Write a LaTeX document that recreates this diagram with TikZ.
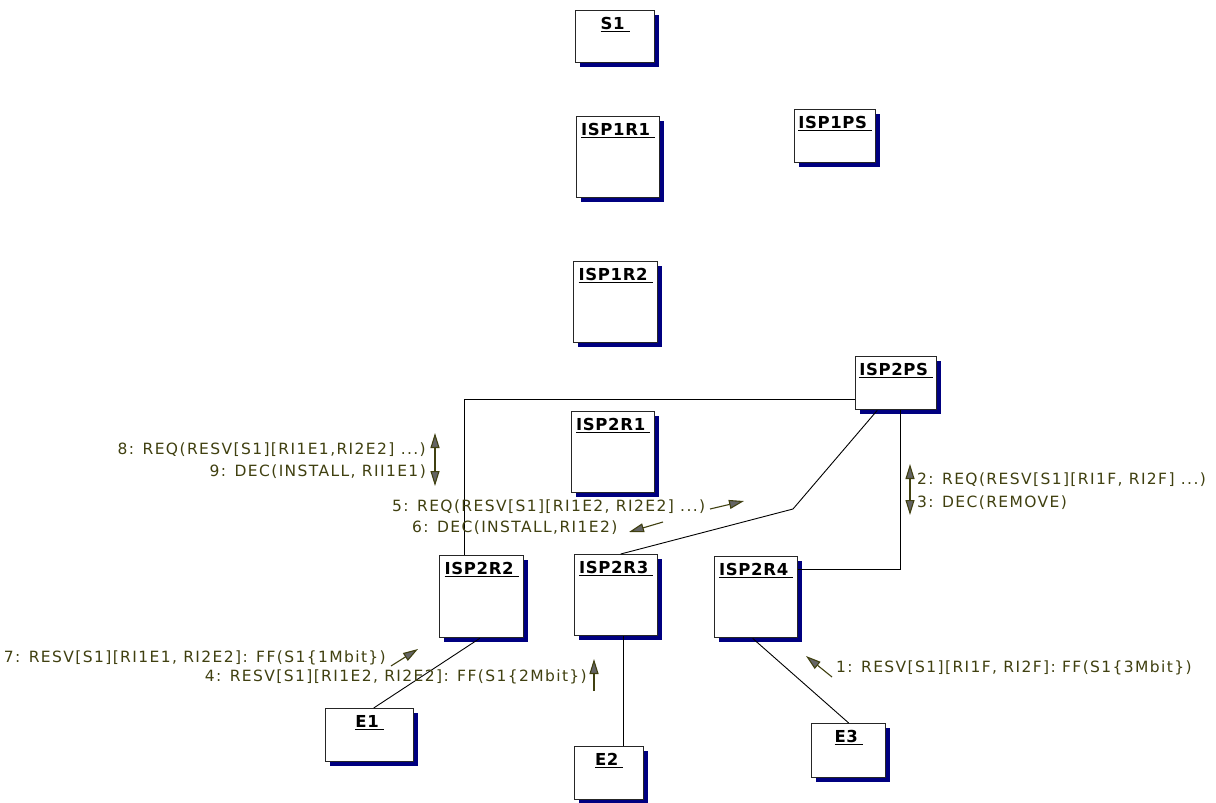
\documentclass[tikz,border=0pt]{standalone}
\usepackage{fontspec}
\setmainfont{DejaVu Sans}
\newfontfamily\msgfont[LetterSpace=9]{DejaVu Sans}
\newfontfamily\ttlfont[LetterSpace=4]{DejaVu Sans}
\usetikzlibrary{arrows.meta,shadows}
\definecolor{msgcol}{RGB}{64,64,16}
\definecolor{headgray}{RGB}{100,100,100}
\definecolor{shadownavy}{RGB}{0,0,128}
\newcommand\ttlul[1]{\setbox0\hbox{#1\hspace{5pt}}\rlap{\vrule height -1.8pt depth 3.4pt width \wd0}\box0}
\begin{document}
\begin{tikzpicture}[x=1pt,y=-1pt,
  box/.style={draw=black!85, line width=1.4pt, fill=white, anchor=north west, inner sep=0pt,
    general shadow={fill=shadownavy, shadow xshift=4pt, shadow yshift=-4pt}},
  ttl/.style={font=\ttlfont\bfseries\fontsize{16.5}{20}\selectfont, text=black, anchor=base, yshift=-19pt, inner sep=0pt},
  conn/.style={draw=black, line width=0.9pt},
  msg/.style={font=\msgfont\fontsize{15.5}{18}\selectfont, text=msgcol, inner sep=0pt},
  marrow/.style={draw=msgcol, line width=1.1pt, -{Triangle[length=15pt,width=9pt,fill=headgray]}},
  dmarrow/.style={draw=msgcol, line width=1.1pt, {Triangle[length=15pt,width=9pt,fill=headgray]}-{Triangle[length=15pt,width=9pt,fill=headgray]}}]
\useasboundingbox[fill=white] (0,0) rectangle (1216,803);

% boxes
\node[box, minimum width=79pt, minimum height=52pt, label={[ttl]north:\ttlul{S1}}] (S1) at (575,10) {};
\node[box, minimum width=83pt, minimum height=81pt, label={[ttl]north:\ttlul{ISP1R1}}] (ISP1R1) at (576,116) {};
\node[box, minimum width=81pt, minimum height=53pt, label={[ttl]north:\ttlul{ISP1PS}}] (ISP1PS) at (794,109) {};
\node[box, minimum width=84pt, minimum height=81pt, label={[ttl]north:\ttlul{ISP1R2}}] (ISP1R2) at (573,261) {};
\node[box, minimum width=81pt, minimum height=53pt, label={[ttl]north:\ttlul{ISP2PS}}] (ISP2PS) at (855,356) {};
\node[box, minimum width=83pt, minimum height=81pt, label={[ttl]north:\ttlul{ISP2R1}}] (ISP2R1) at (571,411) {};
\node[box, minimum width=84pt, minimum height=82pt, label={[ttl]north:\ttlul{ISP2R2}}] (ISP2R2) at (439,555) {};
\node[box, minimum width=83pt, minimum height=81pt, label={[ttl]north:\ttlul{ISP2R3}}] (ISP2R3) at (574,554) {};
\node[box, minimum width=83pt, minimum height=81pt, label={[ttl]north:\ttlul{ISP2R4}}] (ISP2R4) at (714,556) {};
\node[box, minimum width=88pt, minimum height=53pt, label={[ttl]north:\ttlul{E1}}] (E1) at (325,708) {};
\node[box, minimum width=69pt, minimum height=53pt, label={[ttl]north:\ttlul{E2}}] (E2) at (574,746) {};
\node[box, minimum width=74pt, minimum height=54pt, label={[ttl]north:\ttlul{E3}}] (E3) at (811,723) {};

% connectors
\coordinate (bend) at (793,509);
\draw[conn] ([yshift=11pt]ISP2PS.south west) -| ([xshift=25pt]ISP2R2.north west);
\draw[conn] ([xshift=-19pt]ISP2PS.south) -- (bend) -- ([xshift=4.5pt]ISP2R3.north);
\draw[conn] ([yshift=-13pt]ISP2R4.north east) -| ([xshift=4.5pt]ISP2PS.south);
\draw[conn] ([xshift=-2pt]ISP2R2.south) -- ([xshift=4pt]E1.north);
\draw[conn] ([xshift=7.5pt]ISP2R3.south) -- ([xshift=14.5pt]E2.north);
\draw[conn] ([xshift=-3.5pt]ISP2R4.south) -- (E3.north);

% messages
\node[msg, anchor=east] (m8) at (426,450) {8: REQ(RESV[S1][RI1E1,RI2E2] ...)};
\node[msg, anchor=east] (m9) at (426,472) {9: DEC(INSTALL, RII1E1)};
\coordinate (a89s) at (435,433);
\coordinate (a89e) at (435,486);
\draw[dmarrow] (a89s) -- (a89e);

\node[msg, anchor=west] (m5) at (392,507) {5: REQ(RESV[S1][RI1E2, RI2E2] ...)};
\node[msg, anchor=west] (m6) at (412,528) {6: DEC(INSTALL,RI1E2)};
\coordinate (a5s) at (710,509);
\coordinate (a5e) at (744,501);
\draw[marrow] (a5s) -- (a5e);
\coordinate (a6s) at (663,522);
\coordinate (a6e) at (629,532);
\draw[marrow] (a6s) -- (a6e);

\node[msg, anchor=west] (m2) at (917,480) {2: REQ(RESV[S1][RI1F, RI2F] ...)};
\node[msg, anchor=west] (m3) at (917,503) {3: DEC(REMOVE)};
\coordinate (a23s) at (910,464);
\coordinate (a23e) at (910,515);
\draw[dmarrow] (a23s) -- (a23e);

\node[msg, anchor=east] (m7) at (386,658) {7: RESV[S1][RI1E1, RI2E2]: FF(S1\{1Mbit\})};
\node[msg, anchor=east] (m4) at (587,677) {4: RESV[S1][RI1E2, RI2E2]: FF(S1\{2Mbit\})};
\coordinate (a7s) at (391,666);
\coordinate (a7e) at (418,649);
\draw[marrow] (a7s) -- (a7e);
\coordinate (a4s) at (594,691);
\coordinate (a4e) at (594,659);
\draw[marrow] (a4s) -- (a4e);

\node[msg, anchor=west] (m1) at (836,668) {1: RESV[S1][RI1F, RI2F]: FF(S1\{3Mbit\})};
\coordinate (a1s) at (832,677);
\coordinate (a1e) at (806,656);
\draw[marrow] (a1s) -- (a1e);
\end{tikzpicture}
\end{document}
